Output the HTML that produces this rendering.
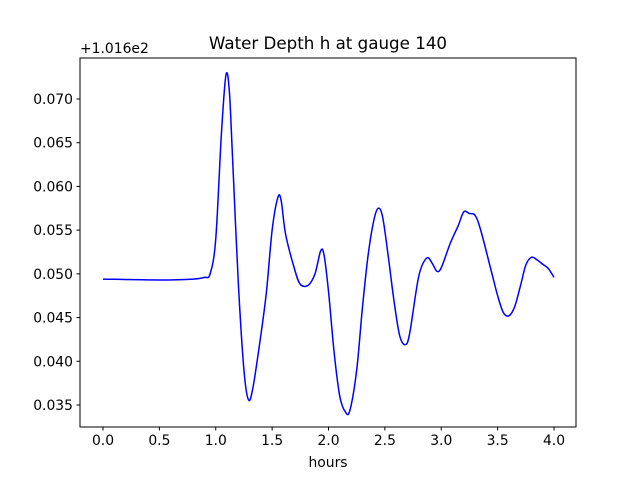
<!DOCTYPE html>
<html><head><meta charset="utf-8"><style>
body{margin:0;background:#fff;font-family:"DejaVu Sans","Liberation Sans",sans-serif;}
svg text{font-family:"DejaVu Sans","Liberation Sans",sans-serif;fill:#000;}
</style></head><body>
<svg width="640" height="480" viewBox="0 0 640 480">
<rect width="640" height="480" fill="#fff"/>
<g id="plot"></g>
</svg>
<script>
const hours=[0,0.5,0.8,0.9,0.95,1.0,1.05,1.09,1.12,1.15,1.2,1.25,1.29,1.33,1.4,1.45,1.5,1.55,1.58,1.62,1.7,1.75,1.82,1.88,1.93,1.96,2.0,2.05,2.1,2.15,2.19,2.25,2.3,2.35,2.4,2.44,2.48,2.53,2.58,2.63,2.68,2.72,2.8,2.87,2.92,2.96,3.0,3.08,3.15,3.2,3.25,3.3,3.35,3.45,3.5,3.55,3.6,3.65,3.7,3.75,3.8,3.85,3.9,3.95,4.0];
const depth=[0.0494,0.0493,0.0494,0.0496,0.0500,0.054,0.066,0.0727,0.071,0.063,0.049,0.039,0.0356,0.037,0.043,0.048,0.055,0.0587,0.0584,0.0545,0.0505,0.0488,0.0487,0.050,0.0526,0.0522,0.048,0.041,0.036,0.0342,0.0344,0.039,0.046,0.052,0.0560,0.0575,0.0565,0.052,0.047,0.043,0.0419,0.0432,0.0497,0.0518,0.0512,0.0503,0.0507,0.0535,0.0555,0.0571,0.0569,0.0567,0.055,0.050,0.0475,0.0456,0.0452,0.0462,0.0485,0.051,0.0519,0.0516,0.0511,0.0506,0.0496];
const xTicks=[0,0.5,1.0,1.5,2.0,2.5,3.0,3.5,4.0];
const xTickLabels=["0.0","0.5","1.0","1.5","2.0","2.5","3.0","3.5","4.0"];
const yTicks=[0.035,0.040,0.045,0.050,0.055,0.060,0.065,0.070];
const yTickLabels=["0.035","0.040","0.045","0.050","0.055","0.060","0.065","0.070"];
const L=80,R=576,T=58,B=427;
const X=v=>103+v*(554-103)/4;
const Y=v=>405-(v-0.035)*(405-99)/0.035;
const NS="http://www.w3.org/2000/svg";
const g=document.getElementById('plot');
function mk(t,a,txt){const e=document.createElementNS(NS,t);for(const k in a)e.setAttribute(k,a[k]);if(txt!==undefined)e.textContent=txt;g.appendChild(e);return e;}
// smooth line (Catmull-Rom)
const P=hours.map((h,i)=>[X(h),Y(depth[i])]);
let d='M'+P[0][0].toFixed(2)+' '+P[0][1].toFixed(2);
for(let i=0;i<P.length-1;i++){
 const p0=P[Math.max(0,i-1)],p1=P[i],p2=P[i+1],p3=P[Math.min(P.length-1,i+2)];
 const c1=[p1[0]+(p2[0]-p0[0])/6,p1[1]+(p2[1]-p0[1])/6];
 const c2=[p2[0]-(p3[0]-p1[0])/6,p2[1]-(p3[1]-p1[1])/6];
 d+='C'+c1[0].toFixed(2)+' '+c1[1].toFixed(2)+' '+c2[0].toFixed(2)+' '+c2[1].toFixed(2)+' '+p2[0].toFixed(2)+' '+p2[1].toFixed(2);
}
const ln=mk('path',{d:d,fill:'none',stroke:'#0000ff','stroke-width':1.5,'stroke-linejoin':'round'});


const fr=mk('rect',{x:L,y:T,width:R-L,height:B-T,fill:'none',stroke:'#000','stroke-width':1});


xTicks.forEach((v,i)=>{const x=X(v);mk('line',{x1:x,x2:x,y1:B,y2:B+3.5,stroke:'#000'});
const t=mk('text',{x:x,y:B+18,'font-size':13.9,'text-anchor':'middle'},xTickLabels[i]);

});
yTicks.forEach((v,i)=>{const y=Y(v);mk('line',{x1:L-3.5,x2:L,y1:y,y2:y,stroke:'#000'});
const t=mk('text',{x:L-7,y:y+5,'font-size':13.9,'text-anchor':'end'},yTickLabels[i]);

});
const off=mk('text',{x:L,y:T-5,'font-size':13.9},'+1.016e2');


const ti=mk('text',{x:(L+R)/2,y:T-9,'font-size':16.7,'text-anchor':'middle'},'Water Depth h at gauge 140');


const xl=mk('text',{x:(L+R)/2,y:467,'font-size':13.9,'text-anchor':'middle'},'hours');


</script>
</body></html>
